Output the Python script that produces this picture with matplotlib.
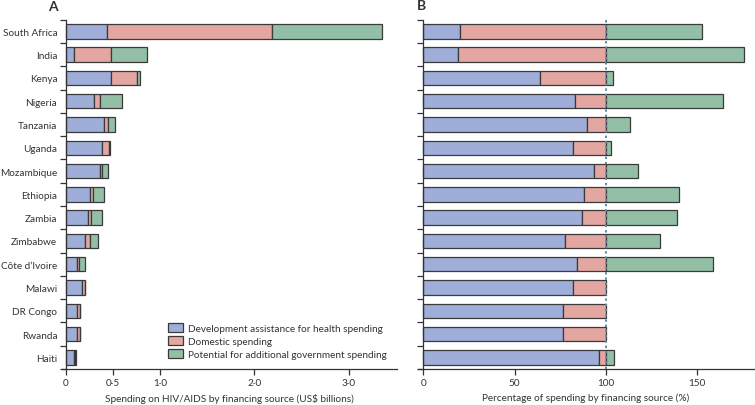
import numpy as np
import matplotlib
matplotlib.use('Agg')
import matplotlib.pyplot as plt
from matplotlib.patches import Patch

plt.rcParams['font.family'] = ['Lato', 'DejaVu Sans']

countries = ['South Africa', 'India', 'Kenya', 'Nigeria', 'Tanzania', 'Uganda',
             'Mozambique', 'Ethiopia', 'Zambia', 'Zimbabwe', 'Côte d\u2019Ivoire',
             'Malawi', 'DR Congo', 'Rwanda', 'Haiti']

# panel A, US$ billions (read as cumulative ends of each segment)
dah_end = [0.44, 0.088, 0.48, 0.30, 0.41, 0.38, 0.36, 0.26, 0.233, 0.205, 0.117, 0.17, 0.117, 0.117, 0.091]
dom_end = [2.19, 0.48, 0.76, 0.36, 0.45, 0.456, 0.38, 0.29, 0.27, 0.26, 0.138, 0.21, 0.148, 0.148, 0.10]
pot_end = [3.35, 0.86, 0.79, 0.60, 0.52, 0.47, 0.45, 0.41, 0.38, 0.34, 0.21, 0.21, 0.148, 0.148, 0.11]

# panel B, percent of current spending
dah_pct = [20.2, 19.1, 64.0, 82.9, 89.6, 82.0, 93.6, 88.0, 87.0, 77.8, 84.0, 82.0, 76.7, 76.3, 96.0]
total_pct = [152.5, 175.8, 103.7, 164.0, 113.0, 102.7, 117.5, 140.0, 139.0, 129.7, 158.7, 100.0, 100.0, 100.0, 104.4]

legend_labels = ['Development assistance for health spending', 'Domestic spending',
                 'Potential for additional government spending']
c_blue = '#9eaed8'
c_red = '#e3a6a0'
c_green = '#92bfa6'
edge = '#3a3a3a'
fs = 7.2

fig = plt.figure(figsize=(7.55, 4.06), dpi=100)
axA = fig.add_axes([61.7/755, 1-370/406, (397-61.7)/755, (370-20.7)/406])
axB = fig.add_axes([418/755, 1-370/406, (754-418)/755, (370-20.7)/406])

y = np.arange(len(countries))
h = 0.62

dah_end = np.array(dah_end)
dom_end = np.array(dom_end)
pot_end = np.array(pot_end)
axA.barh(y, dah_end, height=h, color=c_blue, edgecolor=edge, linewidth=0.9)
axA.barh(y, dom_end - dah_end, left=dah_end, height=h, color=c_red, edgecolor=edge, linewidth=0.9)
axA.barh(y, pot_end - dom_end, left=dom_end, height=h, color=c_green, edgecolor=edge, linewidth=0.9)

dah_pct = np.array(dah_pct)
total_pct = np.array(total_pct)
axB.barh(y, dah_pct, height=h, color=c_blue, edgecolor=edge, linewidth=0.9)
axB.barh(y, 100 - dah_pct, left=dah_pct, height=h, color=c_red, edgecolor=edge, linewidth=0.9)
has_pot = total_pct > 100
axB.barh(y[has_pot], total_pct[has_pot] - 100, left=100, height=h, color=c_green, edgecolor=edge, linewidth=0.9)
axB.axvline(100, color='#5f8a9c', linestyle=(0, (1.2, 1.5)), linewidth=1.4, zorder=5)

for ax in (axA, axB):
    ax.set_ylim(len(countries) - 0.5, -0.5)
    ax.spines['top'].set_visible(False)
    ax.spines['right'].set_visible(False)
    ax.spines['left'].set_position(('data', 0))
    for s in ('left', 'bottom'):
        ax.spines[s].set_color('#333333')
        ax.spines[s].set_linewidth(0.9)
    ax.set_yticks(np.arange(-0.5, len(countries), 1.0))
    ax.set_yticklabels([])
    ax.set_yticks(y, minor=True)
    ax.tick_params(axis='y', which='major', length=4, width=0.9, color='#333333')
    ax.tick_params(axis='y', which='minor', length=0, pad=6)
    ax.tick_params(axis='x', length=4, width=0.9, color='#333333', labelsize=fs, labelcolor='#333333', pad=2.5)

axA.set_yticklabels(countries, minor=True, fontsize=fs, color='#333333')
axA.set_xlim(-0.042, 3.51)
axA.set_xticks([0, 0.5, 1.0, 2.0, 3.0])
axA.set_xticklabels(['0', '0\u00b75', '1\u00b70', '2\u00b70', '3\u00b70'])
axA.set_xlabel('Spending on HIV/AIDS by financing source (US$ billions)', fontsize=fs, color='#333333', labelpad=4)

axB.set_xlim(-2.9, 181)
axB.set_xticks([0, 50, 100, 150])
axB.set_xlabel('Percentage of spending by financing source (%)', fontsize=fs, color='#333333', labelpad=4)

handles = [Patch(facecolor=c, edgecolor=edge, linewidth=0.9) for c in (c_blue, c_red, c_green)]
axA.legend(handles, legend_labels, loc='lower right', bbox_to_anchor=(1.0, 0.0), frameon=False,
           fontsize=fs, handlelength=1.5, handleheight=1.0, handletextpad=0.5, labelspacing=0.32,
           borderaxespad=0.6, labelcolor='#333333')

fig.text(48/755, 1-7/406, 'A', fontsize=10, fontweight='bold', color='#333333', va='center')
fig.text(417/755, 1-6/406, 'B', fontsize=10, fontweight='bold', color='#333333', va='center')

fig.savefig('out.png', dpi=100)
